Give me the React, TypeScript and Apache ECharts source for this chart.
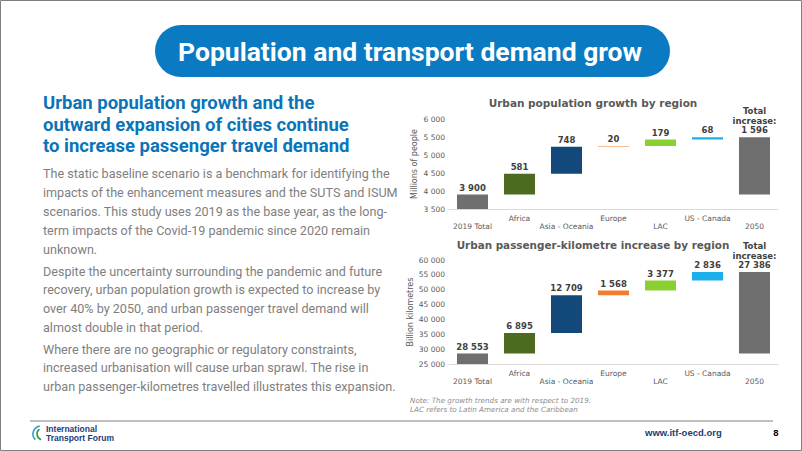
import React, { useEffect, useRef } from "react";
import * as echarts from "echarts";

const categories = ["2019 Total", "Africa", "Asia - Oceania", "Europe", "LAC", "US - Canada", "2050"];
const popStart = 3900;
const popIncrease = [581, 748, 20, 179, 68];
const popTotalIncrease = 1596;
const pkmStart = 28553;
const pkmIncrease = [6895, 12709, 1568, 3377, 2836];
const pkmTotalIncrease = 27386;
const barColors = ["#6f6f6f", "#4c6b1f", "#12497a", "#f07e2e", "#8bd032", "#1cb0ea", "#6f6f6f"];
const popColors = ["#6f6f6f", "#4c6b1f", "#12497a", "#f5a46b", "#8bd032", "#1cb0ea", "#6f6f6f"];

const titleText = "Population and transport demand grow";
const subtitleLines = [
  "Urban population growth and the",
  "outward expansion of cities continue",
  "to increase passenger travel demand",
];
const para1 = [
  "The static baseline scenario is a benchmark for identifying the",
  "impacts of the enhancement measures and the SUTS and ISUM",
  "scenarios. This study uses 2019 as the base year, as the long-",
  "term impacts of the Covid-19 pandemic since 2020 remain",
  "unknown.",
];
const para2 = [
  "Despite the uncertainty surrounding the pandemic and future",
  "recovery, urban population growth is expected to increase by",
  "over 40% by 2050, and urban passenger travel demand will",
  "almost double in that period.",
];
const para3 = [
  "Where there are no geographic or regulatory constraints,",
  "increased urbanisation will cause urban sprawl. The rise in",
  "urban passenger-kilometres travelled illustrates this expansion.",
];
const noteLines = [
  "Note: The growth trends are with respect to 2019.",
  "LAC refers to Latin America and the Caribbean",
];

const fmt = (v: number) => String(Math.round(v)).replace(/\B(?=(\d{3})+(?!\d))/g, " ");

function waterfall(start: number, inc: number[], total: number) {
  const base: number[] = [0];
  const vis: number[] = [start];
  let cur = start;
  inc.forEach((d) => {
    base.push(cur);
    vis.push(d);
    cur += d;
  });
  base.push(start);
  vis.push(total);
  return { base, vis };
}

const CHART_FONT = "DejaVu Sans";

export default function App() {
  const ref = useRef<HTMLDivElement>(null);
  useEffect(() => {
    document.body.style.margin = "0";
    const chart = echarts.init(ref.current!, null, { renderer: "svg" });
    const pop = waterfall(popStart, popIncrease, popTotalIncrease);
    const pkm = waterfall(pkmStart, pkmIncrease, pkmTotalIncrease);

    const xAxis = (gi: number) => ({
      type: "category",
      gridIndex: gi,
      data: categories,
      axisTick: { show: false },
      axisLine: { lineStyle: { color: "#d9d9d9", width: 1 } },
      axisLabel: {
        interval: 0,
        color: "#595959",
        fontSize: 7.5,
        fontFamily: CHART_FONT,
        lineHeight: 8.5,
        margin: 5,
        formatter: (v: string, i: number) => (i % 2 === 1 ? v + "\n " : " \n" + v),
      },
    });
    const yAxis = (gi: number, min: number, max: number, interval: number, name: string) => ({
      type: "value",
      gridIndex: gi,
      min,
      max,
      interval,
      name,
      nameLocation: "middle",
      nameRotate: 90,
      nameGap: 31,
      nameTextStyle: { color: "#595959", fontSize: 8, fontFamily: CHART_FONT },
      axisLine: { show: false },
      axisTick: { show: false },
      splitLine: { show: false },
      axisLabel: { color: "#595959", fontSize: 7.5, fontFamily: CHART_FONT, margin: 4, formatter: (v: number) => fmt(v) },
    });

    const seriesFor = (gi: number, wf: { base: number[]; vis: number[] }, colors: string[], stack: string) => [
      {
        type: "bar",
        xAxisIndex: gi,
        yAxisIndex: gi,
        stack,
        data: wf.base,
        itemStyle: { color: "transparent" },
        barWidth: "66%",
        silent: true,
      },
      {
        type: "bar",
        xAxisIndex: gi,
        yAxisIndex: gi,
        stack,
        barWidth: "66%",
        data: wf.vis.map((v, i) => ({ value: v, itemStyle: { color: colors[i] } })),
        label: {
          show: true,
          position: "top",
          distance: 2,
          color: "#404040",
          fontWeight: "bold",
          fontSize: 8.5,
          lineHeight: 9.5,
          fontFamily: CHART_FONT,
          formatter: (p: any) =>
            p.dataIndex === categories.length - 1 ? "Total\nincrease:\n" + fmt(p.value) : fmt(p.value),
        },
      },
    ];

    const textEl = (x: number, y: number, text: string, style: any) => ({
      type: "text",
      x,
      y,
      style: { text, ...style },
    });

    const bodyStyle = { fill: "#808080", font: "12.6px Roboto", textVerticalAlign: "middle" };
    const graphics: any[] = [
      { type: "rect", shape: { x: 0.5, y: 0.5, width: 801, height: 450 }, style: { fill: "none", stroke: "#7f7f7f", lineWidth: 1 } },
      { type: "rect", shape: { x: 155, y: 25, width: 515, height: 52, r: 26 }, style: { fill: "#0a7bc2" } },
      textEl(410, 51, titleText, { fill: "#ffffff", font: "bold 26.5px Roboto", textAlign: "center", textVerticalAlign: "middle" }),
      ...subtitleLines.map((t, i) =>
        textEl(43, 103 + i * 21.5, t, { fill: "#0b74b8", font: "bold 18.5px Roboto", textVerticalAlign: "middle" })
      ),
      ...para1.map((t, i) => textEl(43, 173 + i * 19, t, bodyStyle)),
      ...para2.map((t, i) => textEl(43, 271 + i * 18.8, t, bodyStyle)),
      ...para3.map((t, i) => textEl(43, 349 + i * 18.5, t, bodyStyle)),
      textEl(593, 103, "Urban population growth by region", { fill: "#595959", font: "bold 10.5px 'DejaVu Sans'", textAlign: "center", textVerticalAlign: "middle" }),
      textEl(593, 245, "Urban passenger-kilometre increase by region", { fill: "#595959", font: "bold 10.4px 'DejaVu Sans'", textAlign: "center", textVerticalAlign: "middle" }),
      ...noteLines.map((t, i) =>
        textEl(410, 400 + i * 9, t, { fill: "#8c8c8c", font: "italic 7.2px 'DejaVu Sans'", textVerticalAlign: "middle" })
      ),
      { type: "line", shape: { x1: 30, y1: 421, x2: 773, y2: 421 }, style: { stroke: "#808080", lineWidth: 1.2 } },
      { type: "arc", shape: { cx: 41, cy: 434, r: 8, startAngle: Math.PI * 0.75, endAngle: Math.PI * 1.45 }, style: { stroke: "#2aa0c8", lineWidth: 1.6, fill: "none" } },
      { type: "arc", shape: { cx: 43, cy: 434, r: 6, startAngle: Math.PI * 0.6, endAngle: Math.PI * 1.3 }, style: { stroke: "#3a9a3a", lineWidth: 1.6, fill: "none" } },
      textEl(46, 429, "International", { fill: "#1d3c78", font: "bold 8.5px 'Liberation Sans Narrow', 'Liberation Sans'", textVerticalAlign: "middle" }),
      textEl(46, 437.5, "Transport Forum", { fill: "#1d3c78", font: "bold 8.5px 'Liberation Sans Narrow', 'Liberation Sans'", textVerticalAlign: "middle" }),
      textEl(645, 432, "www.itf-oecd.org", { fill: "#1d3c78", font: "bold 9.5px 'Liberation Sans'", textVerticalAlign: "middle" }),
      textEl(776, 432, "8", { fill: "#000000", font: "bold 9.5px 'Liberation Sans'", textVerticalAlign: "middle", textAlign: "center" }),
    ];

    chart.setOption({
      animation: false,
      grid: [
        { left: 449, right: 24, top: 119, bottom: 242, containLabel: false },
        { left: 449, right: 24, top: 260, bottom: 87, containLabel: false },
      ],
      xAxis: [xAxis(0), xAxis(1)],
      yAxis: [
        yAxis(0, 3500, 6000, 500, "Millions of people"),
        yAxis(1, 25000, 60000, 5000, "Billion kilometres"),
      ],
      series: [...seriesFor(0, pop, popColors, "a"), ...seriesFor(1, pkm, barColors, "b")],
      graphic: graphics,
    });
    return () => chart.dispose();
  }, []);
  return <div ref={ref} style={{ position: "absolute", left: 0, top: 0, width: 802, height: 451, background: "#fff" }} />;
}
